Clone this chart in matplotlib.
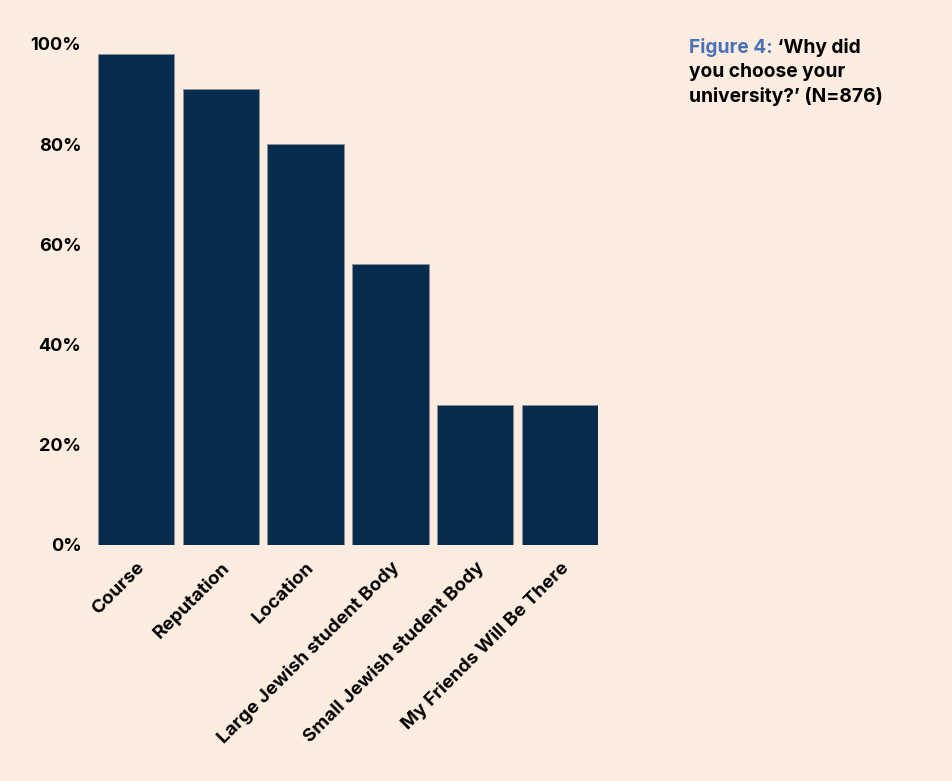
import matplotlib.pyplot as plt
from matplotlib.ticker import PercentFormatter

# Survey responses
reasons = ['Course', 'Reputation', 'Location', 'Large Jewish student Body',
           'Small Jewish student Body', 'My Friends Will Be There']
shares = [98, 91, 80, 56, 28, 28]
yticks = [0, 20, 40, 60, 80, 100]

bg = '#fdede0'
navy = '#082c4e'
plt.rcParams['font.family'] = ['Inter', 'DejaVu Sans']

fig = plt.figure(figsize=(9.53, 7.81), dpi=100, facecolor=bg)
ax = fig.add_axes([0.1028, 0.3022, 0.5247, 0.6415], facecolor=bg)

x = range(len(reasons))
w = 0.9
ax.bar(x, shares, width=w, color=navy, edgecolor='#8a8f96', linewidth=0.6)

ax.set_xlim(-w / 2, len(reasons) - 1 + w / 2)
ax.set_ylim(0, 100)
ax.set_yticks(yticks)
ax.yaxis.set_major_formatter(PercentFormatter(decimals=0))
ax.set_xticks(list(x))
ax.set_xticklabels(reasons, rotation=45, ha='right', rotation_mode='anchor')

for s in ax.spines.values():
    s.set_visible(False)
ax.tick_params(length=0)
ax.tick_params(axis='y', pad=12, labelsize=13)
ax.tick_params(axis='x', pad=10, labelsize=13.5)
for lab in ax.get_xticklabels() + ax.get_yticklabels():
    lab.set_fontweight('bold')

# Caption on the right
cap = dict(fontsize=13.8, fontweight='bold')
t1 = fig.text(0.723, 0.932, 'Figure 4:', color='#4a72b8', va='baseline', **cap)
ax.annotate(' \u2018Why did', xy=(1, 0), xycoords=t1, va='bottom',
            color='black', annotation_clip=False, **cap)
fig.text(0.723, 0.901, 'you choose your', va='baseline', **cap)
fig.text(0.723, 0.870, 'university?\u2019 (N=876)', va='baseline', **cap)

fig.savefig('out.png', dpi=100, facecolor=bg)
